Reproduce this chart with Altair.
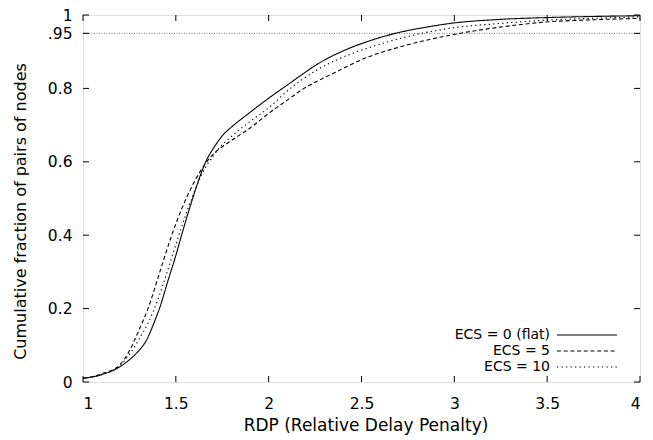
import altair as alt
import pandas as pd

series_names = ["ECS = 0 (flat)", "ECS = 5", "ECS = 10"]

rdp_flat = [1.0, 1.1, 1.2, 1.26, 1.3, 1.343, 1.38, 1.415, 1.46, 1.5, 1.531, 1.56, 1.6, 1.63,
            1.666, 1.7, 1.754, 1.8, 1.88, 1.97, 2.043, 2.1, 2.169, 2.259, 2.4, 2.528, 2.707,
            2.85, 2.977, 3.246, 3.497, 3.75, 4.0]
cdf_flat = [0.01, 0.02, 0.042, 0.065, 0.085, 0.115, 0.158, 0.205, 0.28, 0.345, 0.40, 0.45, 0.515, 0.56,
            0.605, 0.635, 0.673, 0.695, 0.727, 0.762, 0.789, 0.809, 0.834, 0.865, 0.902, 0.927, 0.953,
            0.967, 0.977, 0.988, 0.993, 0.996, 0.998]

rdp_ecs5 = [1.0, 1.1, 1.2, 1.25, 1.3, 1.35, 1.42, 1.478, 1.53, 1.594, 1.666, 1.71, 1.756, 1.82,
            1.9, 2.0, 2.1, 2.169, 2.348, 2.528, 2.707, 2.977, 3.246, 3.497, 3.75, 4.0]
cdf_ecs5 = [0.01, 0.022, 0.048, 0.085, 0.14, 0.2, 0.31, 0.40, 0.47, 0.54, 0.60, 0.625, 0.643, 0.665,
            0.692, 0.732, 0.768, 0.793, 0.841, 0.884, 0.913, 0.945, 0.967, 0.981, 0.987, 0.991]

rdp_ecs10 = [1.0, 1.1, 1.2, 1.25, 1.3, 1.35, 1.4, 1.45, 1.51, 1.56, 1.593, 1.666, 1.7, 1.738, 1.79,
             1.9, 2.007, 2.1, 2.169, 2.259, 2.4, 2.528, 2.707, 2.977, 3.246, 3.497, 3.75, 4.0]
cdf_ecs10 = [0.01, 0.02, 0.045, 0.075, 0.115, 0.16, 0.22, 0.295, 0.39, 0.465, 0.51, 0.59, 0.615, 0.64,
             0.665, 0.71, 0.75, 0.793, 0.82, 0.85, 0.885, 0.909, 0.936, 0.964, 0.977, 0.986, 0.991, 0.995]

x_ticks = [1, 1.5, 2, 2.5, 3, 3.5, 4]
y_ticks = [0, 0.2, 0.4, 0.6, 0.8, 0.95, 1]
ref_level = [0.95]

W, H = 557, 367
FONT = "DejaVu Sans"
dashes = [[1, 0], [4, 2.7], [1.3, 3.2]]

xscale = alt.Scale(domain=[1, 4], nice=False, zero=False)
yscale = alt.Scale(domain=[0, 1], nice=False, zero=False)

xaxis = alt.Axis(values=x_ticks, format="~g", ticks=False, tickSize=0, domain=False, grid=False,
                 labelFont=FONT, labelFontSize=15.5, labelColor="black", labelBaseline="alphabetic",
                 labelPadding=26, title="RDP (Relative Delay Penalty)", titleFont=FONT,
                 titleFontSize=17, titleFontWeight="normal", titleColor="black",
                 titleBaseline="alphabetic", titleX=W / 2 + 4, titleY=48, titleAnchor="middle")
yaxis = alt.Axis(values=y_ticks, labelExpr="datum.value == 0.95 ? '.95' : format(datum.value, '~g')",
                 ticks=False, tickSize=0, domain=False, grid=False, labelFont=FONT, labelFontSize=15.5,
                 labelColor="black", labelPadding=11, labelBaseline="middle",
                 title="Cumulative fraction of pairs of nodes", titleFont=FONT, titleFontSize=16,
                 titleFontWeight="normal", titleColor="black", titleBaseline="alphabetic",
                 titleAngle=-90, titleX=-58, titleY=196, titleAlign="center")


def X(field="rdp"):
    return alt.X(f"{field}:Q", scale=xscale, axis=xaxis)


def Y(field="frac"):
    return alt.Y(f"{field}:Q", scale=yscale, axis=yaxis)


layers = []

# reference level line
ref_df = pd.DataFrame({"frac": ref_level})
layers.append(alt.Chart(ref_df).mark_rule(color="#777777", strokeWidth=1, strokeDash=[1, 1.5]).encode(y=Y()))

# curves
for name, xs, ys, dash in zip(series_names, [rdp_flat, rdp_ecs5, rdp_ecs10],
                              [cdf_flat, cdf_ecs5, cdf_ecs10], dashes):
    d = pd.DataFrame({"rdp": xs, "frac": ys, "series": name})
    layers.append(alt.Chart(d).mark_line(color="black", strokeWidth=1.1, strokeDash=dash,
                                         interpolate="monotone").encode(x=X(), y=Y()))

# inward tick marks on all four sides
xt = pd.DataFrame({"rdp": x_ticks})
yt = pd.DataFrame({"frac": y_ticks})
TL = 6
layers.append(alt.Chart(xt).mark_rule(color="black", strokeWidth=1).encode(
    x=X(), y=alt.value(H), y2=alt.value(H - TL)))
layers.append(alt.Chart(xt).mark_rule(color="black", strokeWidth=1).encode(
    x=X(), y=alt.value(0), y2=alt.value(TL)))
layers.append(alt.Chart(yt).mark_rule(color="black", strokeWidth=1).encode(
    y=Y(), x=alt.value(0), x2=alt.value(TL)))
layers.append(alt.Chart(yt).mark_rule(color="black", strokeWidth=1).encode(
    y=Y(), x=alt.value(W), x2=alt.value(W - TL)))

# legend (inside, bottom right)
for i, (name, dash) in enumerate(zip(series_names, dashes)):
    ly = 320 + 16 * i
    ld = pd.DataFrame({"label": [name]})
    layers.append(alt.Chart(ld).mark_text(align="right", baseline="middle", font=FONT, fontSize=14,
                                          color="black").encode(
        text="label:N", x=alt.value(467), y=alt.value(ly)))
    layers.append(alt.Chart(ld).mark_rule(color="black", strokeWidth=1.1, strokeDash=dash).encode(
        x=alt.value(474), x2=alt.value(534), y=alt.value(ly)))

chart = alt.layer(*layers).properties(
    width=W, height=H,
    autosize=alt.AutoSizeParams(type="none"),
    padding={"left": 75, "top": 7, "right": 5, "bottom": 56},
).configure_view(stroke="black", strokeWidth=1.2).configure(background="white")

chart.save("out.html", embed_options={"renderer": "svg", "actions": False})
